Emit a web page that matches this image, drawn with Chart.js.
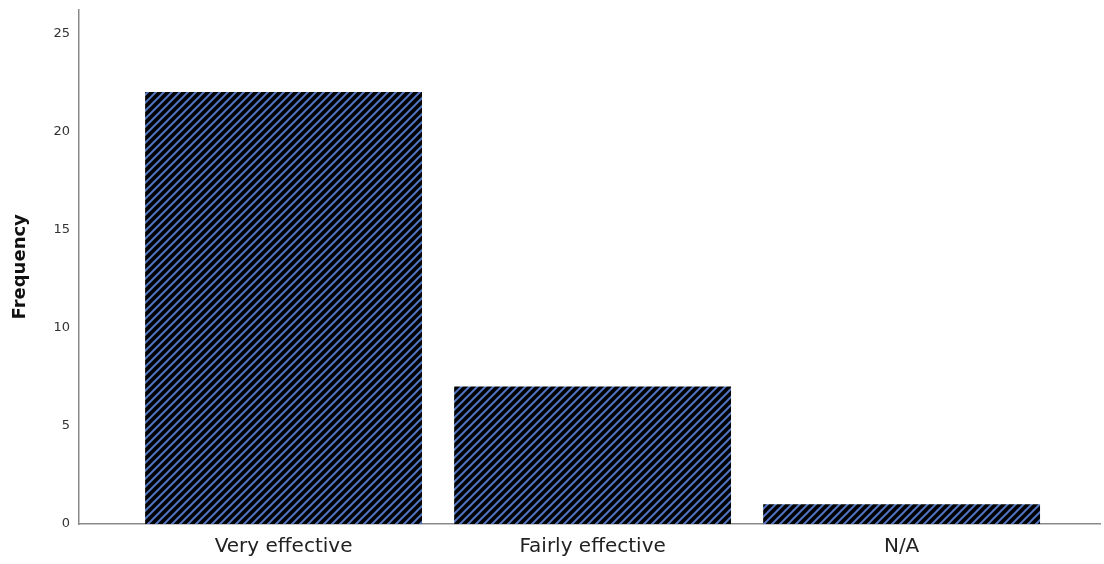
<!DOCTYPE html>
<html>
<head>
<meta charset="utf-8">
<script src="https://cdn.jsdelivr.net/npm/chart.js@4.4.0/dist/chart.umd.min.js"></script>
<style>
  html, body { margin: 0; padding: 0; background: #fff; }
  #wrap { width: 1104px; height: 564px; }
</style>
</head>
<body>
<div id="wrap"><canvas id="freqChart" width="1104" height="564"></canvas></div>
<script>
// ===== Datos =====
const categorias = ['Very effective', 'Fairly effective', 'N/A'];
const frecuencias = [22, 7, 1];
const ticksY = [0, 5, 10, 15, 20, 25];

// patrón rayado (negro con líneas azules)
function crearRayado() {
    const s = 8;
    const c = document.createElement('canvas');
    c.width = s; c.height = s;
    const g = c.getContext('2d');
    g.fillStyle = '#000';
    g.fillRect(0, 0, s, s);
    g.strokeStyle = '#5274c2';
    g.lineWidth = 2;
    g.beginPath();
    g.moveTo(-2, 2); g.lineTo(2, -2);
    g.moveTo(0, s); g.lineTo(s, 0);
    g.moveTo(s - 2, s + 2); g.lineTo(s + 2, s - 2);
    g.stroke();
    return g.createPattern(c, 'repeat');
}

const ctx = document.getElementById('freqChart').getContext('2d');
const rayado = crearRayado();

new Chart(ctx, {
    type: 'bar',
    data: {
        datasets: [{
            data: frecuencias.map((v, i) => ({ x: i, y: v })),
            backgroundColor: rayado,
            borderWidth: 0,
            categoryPercentage: 1,
            barPercentage: 0.896
        }]
    },
    options: {
        responsive: false,
        animation: false,
        layout: { padding: { top: 0, right: 4, left: 0, bottom: 0 } },
        plugins: {
            legend: { display: false },
            tooltip: { enabled: false }
        },
        scales: {
            x: {
                type: 'linear',
                offset: false,
                min: -0.662,
                max: 2.642,
                afterBuildTicks: axis => {
                    axis.ticks = categorias.map((_, i) => ({ value: i }));
                },
                afterFit: axis => { axis.height = 40; },
                ticks: {
                    color: '#222',
                    padding: 11,
                    font: { family: 'DejaVu Sans', size: 20 },
                    callback: v => categorias[v] || ''
                },
                grid: { display: false, drawTicks: false },
                border: { color: '#8a8a8a', width: 1.5 }
            },
            y: {
                min: 0,
                max: 26.2,
                afterBuildTicks: axis => {
                    axis.ticks = ticksY.map(v => ({ value: v }));
                },
                afterFit: axis => { axis.width = 79; },
                ticks: {
                    color: '#333',
                    padding: 9,
                    font: { family: 'DejaVu Sans', size: 13, lineHeight: 0.1 }
                },
                grid: { display: false, drawTicks: false },
                border: { color: '#8a8a8a', width: 1.5 },
                title: {
                    display: true,
                    text: 'Frequency',
                    color: '#111',
                    padding: { top: 10, bottom: 0 },
                    font: { family: 'DejaVu Sans', size: 18, weight: 'bold' }
                }
            }
        }
    }
});
</script>
</body>
</html>
